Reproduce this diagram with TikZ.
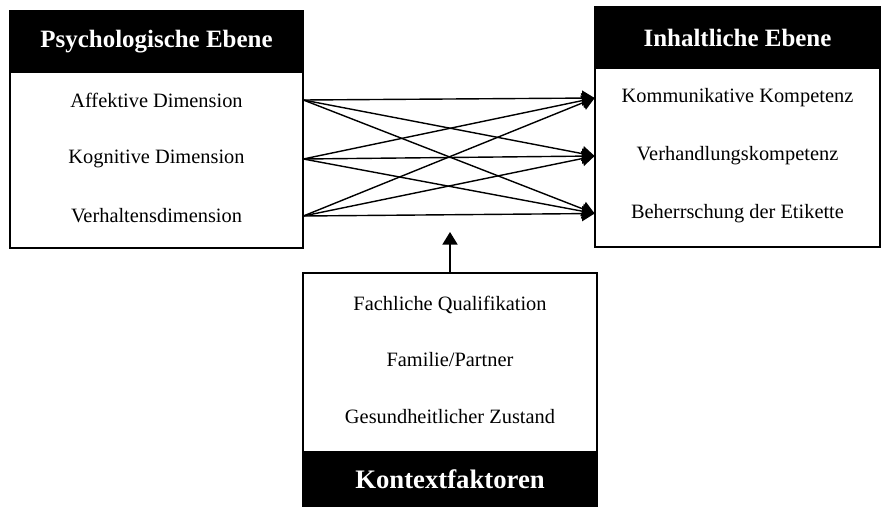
\documentclass[tikz,border=0pt]{standalone}
\usepackage{fontspec}
\setmainfont{Liberation Serif}
\usetikzlibrary{positioning,arrows.meta,calc}

\begin{document}
\begin{tikzpicture}[
  font=\fontsize{11.6}{13}\selectfont,
  head/.style={draw=black, fill=black, text=white, line width=0.9pt,
               minimum width=#1, minimum height=1.22cm, inner sep=0pt,
               font=\fontsize{14.2}{16}\selectfont\bfseries},
  panel/.style={draw=black, fill=white, line width=0.9pt,
                minimum width=#1, minimum height=3.55cm, inner sep=0pt},
  item/.style={minimum width=#1, inner sep=0pt},
  arr/.style={-{Triangle[length=2.5mm, width=3mm]}, line width=0.8pt, black},
]
\useasboundingbox (0,0) rectangle (17.64,-10.16);

% ---------- Psychologische Ebene ----------
\node[panel=5.86cm, minimum height=3.52cm] (psy) at (3.13,-3.20) {};
\node[head=5.86cm] (hpsy) at (3.13,-0.83) {Psychologische Ebene};
\node[item=5.86cm] (p1) at (3.13,-2.00) {Affektive Dimension};
\node[item=5.86cm] (p2) at (3.13,-3.18) {Kognitive Dimension};
\node[item=5.86cm] (p3) at (3.13,-4.32) {Verhaltensdimension};

% ---------- Inhaltliche Ebene ----------
\node[panel=5.70cm, minimum height=3.58cm] (inh) at (14.75,-3.15) {};
\node[head=5.70cm] (hinh) at (14.75,-0.75) {Inhaltliche Ebene};
\node[item=5.70cm] (i1) at (14.75,-1.96) {Kommunikative Kompetenz};
\node[item=5.70cm] (i2) at (14.75,-3.12) {Verhandlungskompetenz};
\node[item=5.70cm] (i3) at (14.75,-4.27) {Beherrschung der Etikette};

% ---------- Kontextfaktoren ----------
\node[panel=5.88cm, minimum height=3.58cm] (kon) at (9.0,-7.25) {};
\node[head=5.88cm, minimum height=1.08cm,
      font=\fontsize{15.2}{17}\selectfont\bfseries] (hkon) at (9.0,-9.58) {Kontextfaktoren};
\node[item=5.88cm] (k1) at (9.0,-6.10) {Fachliche Qualifikation};
\node[item=5.88cm] (k2) at (9.0,-7.20) {Familie/Partner};
\node[item=5.88cm] (k3) at (9.0,-8.34) {Gesundheitlicher Zustand};

% ---------- Pfeile ----------
\foreach \s in {1,2,3}
  \foreach \t in {1,2,3}
    \draw[arr] (p\s.east) -- (i\t.west);
\coordinate (ziel) at (9.0,-4.64);
\draw[arr] (kon.north) -- (ziel);
\end{tikzpicture}
\end{document}
